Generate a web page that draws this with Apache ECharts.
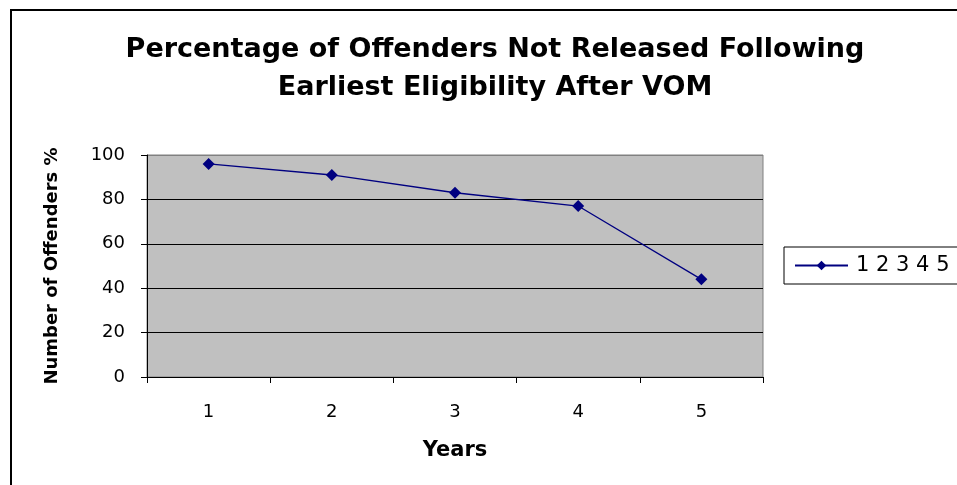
<!DOCTYPE html>
<html><head><meta charset="utf-8">
<script src="https://cdn.jsdelivr.net/npm/echarts@6/dist/echarts.min.js"></script>
<style>html,body{margin:0;padding:0;background:#fff}#c{width:957px;height:485px}</style>
</head><body><div id="c"></div>
<script>
const categories = ['1', '2', '3', '4', '5'];
const values = [96, 91, 83, 77, 44];
const seriesName = '1 2 3 4 5';
const yTicks = [0, 20, 40, 60, 80, 100];

const chart = echarts.init(document.getElementById('c'), null, {renderer: 'canvas'});
const font = 'DejaVu Sans, Liberation Sans, Arial, sans-serif';
chart.setOption({
  animation: false,
  textStyle: {fontFamily: font},
  title: {
    text: 'Percentage of Offenders Not Released Following\nEarliest Eligibility After VOM',
    left: 490, top: 26, textAlign: 'center',
    textStyle: {fontSize: 27, fontWeight: 'bold', color: '#000', fontFamily: font, lineHeight: 38}
  },
  graphic: [{
    type: 'rect', shape: {x: 11, y: 10, width: 1000, height: 600},
    style: {fill: 'none', stroke: '#000', lineWidth: 2}, silent: true
  }],
  legend: {
    left: 784, top: 247, orient: 'horizontal',
    data: [seriesName],
    borderColor: '#000', borderWidth: 1, borderRadius: 0,
    padding: [8, 20, 8, 10],
    itemWidth: 53, itemHeight: 12, itemGap: 4,
    textStyle: {fontSize: 21, color: '#000', fontFamily: font, padding: [0, 0, 0, 3]}
  },
  grid: {
    left: 147, top: 155, width: 616, height: 222, show: true,
    backgroundColor: '#c0c0c0', borderColor: '#808080', borderWidth: 1
  },
  xAxis: {
    type: 'category', data: categories, boundaryGap: true,
    name: 'Years', nameLocation: 'middle', nameGap: 63,
    nameTextStyle: {fontSize: 21, fontWeight: 'bold', color: '#000', fontFamily: font},
    axisLine: {show: true, lineStyle: {color: '#000', width: 1}},
    axisTick: {show: true, inside: false, length: 6, lineStyle: {color: '#000'}},
    axisLabel: {fontSize: 18, color: '#000', margin: 26, fontFamily: font},
    splitLine: {show: false}
  },
  yAxis: {
    type: 'value', min: yTicks[0], max: yTicks[yTicks.length - 1], interval: 20,
    name: 'Number of Offenders %', nameLocation: 'middle', nameGap: 86,
    nameTextStyle: {fontSize: 18, fontWeight: 'bold', color: '#000', fontFamily: font},
    axisLine: {show: true, lineStyle: {color: '#000', width: 1}},
    axisTick: {show: true, inside: false, length: 6, lineStyle: {color: '#000'}},
    axisLabel: {fontSize: 18, color: '#000', margin: 22, fontFamily: font},
    splitLine: {show: true, lineStyle: {color: ['#000', '#000', '#000', '#000', '#000', '#808080'], width: 1}}
  },
  series: [{
    name: seriesName, type: 'line', data: values,
    symbol: 'diamond', symbolSize: 12,
    lineStyle: {color: '#000080', width: 1.3},
    itemStyle: {color: '#000080'}
  }]
});
</script></body></html>
